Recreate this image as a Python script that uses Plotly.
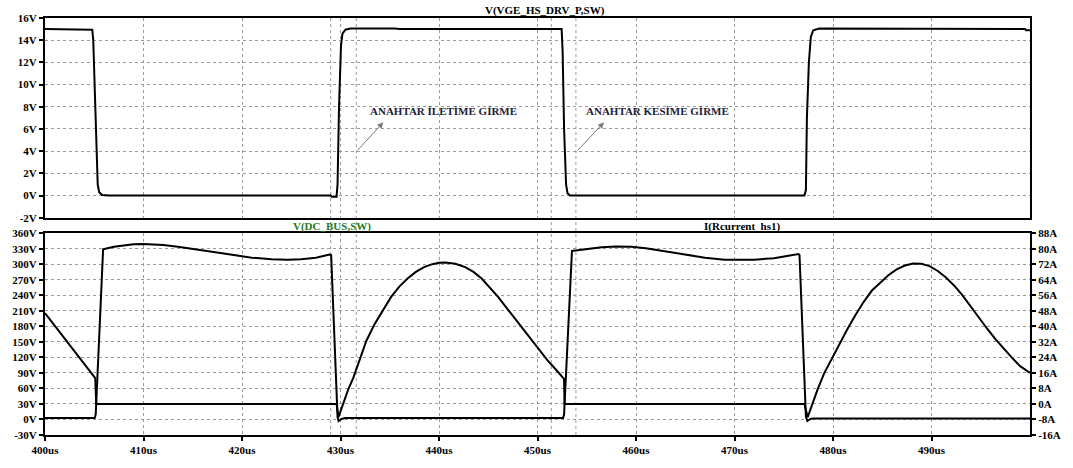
import plotly.graph_objects as go

# ---------------- data ----------------
# Top panel: V(VGE_HS_DRV_P,SW) [V]
time_vge = [400.0, 404.8, 404.9, 405.15, 405.35, 405.5, 405.8, 406.5, 429.0, 429.1, 429.6,
            429.7, 429.85, 430.05, 430.2, 430.5, 431.0, 435.5, 436.0, 452.45, 452.55, 452.7,
            452.9, 453.05, 453.3, 477.1, 477.25, 477.35, 477.4, 477.55, 477.75, 478.0,
            478.6, 499.5, 499.6, 500.0]
vge = [15.0, 14.95, 14.0, 6.0, 1.0, 0.3, 0.05, 0.0, 0.0, -0.1, -0.1,
       1.0, 8.0, 13.5, 14.6, 14.95, 15.05, 15.05, 15.0, 15.0, 13.0, 6.0,
       1.0, 0.2, 0.0, 0.0, 0.5, 7.0, 9.0, 12.0, 14.3, 14.9,
       15.05, 15.0, 14.9, 14.9]

# Bottom panel: V(DC_BUS,SW) [V]
time_vbus = [400.0, 405.05, 405.15, 405.9, 407.0, 408.0, 409.0, 410.0, 411.0, 412.0, 413.5,
             415.0, 417.0, 419.0, 421.0, 423.0, 424.6, 426.0, 427.5, 428.9, 429.05, 429.7,
             429.8, 430.1, 430.5, 452.6, 452.7, 453.5, 455.0, 456.5, 458.0, 459.5, 461.0,
             463.0, 465.0, 467.0, 469.0, 470.5, 472.0, 474.0, 475.5, 476.5, 476.6, 477.25,
             477.4, 477.7, 478.0, 500.0]
vbus = [3, 3, 10, 329, 334, 337, 339, 339.5, 339, 337.5, 334,
        330, 324, 318, 313, 310, 309, 310, 313, 319, 318, 5,
        -3, 1, 3, 3, 10, 326, 330, 333, 334.5, 334, 331,
        325, 318, 313, 309, 308.5, 309, 312, 316, 320, 318, 5,
        -3, 1, 2, 2]

# Bottom panel: I(Rcurrent_hs1) [A]
time_i = [400.0, 402.54, 405.1, 405.2, 429.6,
          429.79, 430.29, 430.79, 431.29, 431.96, 432.63, 433.47, 434.30, 435.14, 435.97,
          436.81, 437.65, 438.48, 439.32, 439.99, 440.66, 441.66, 442.66, 443.50, 444.33,
          445.17, 446.00, 446.84, 447.68, 448.51, 449.35, 450.18, 451.02, 451.86, 452.69,
          452.75, 477.1,
          477.43, 477.93, 478.44, 479.10, 479.77, 480.61, 481.44, 482.28, 483.12, 483.95,
          484.79, 485.62, 486.46, 487.30, 488.13, 488.97, 489.80, 490.64, 491.47, 492.31,
          493.15, 493.98, 494.82, 495.65, 496.49, 497.33, 498.16, 499.00, 499.93, 500.0]
i_hs = [46.8, 30.2, 13.3, 0.0, 0.0,
        -6.8, 0.8, 7.5, 13.3, 23.4, 32.6, 41.3, 48.5, 55.2, 60.5,
        64.7, 68.1, 70.6, 72.1, 72.8, 72.9, 72.3, 70.6, 68.1, 64.7,
        60.2, 55.2, 49.7, 44.3, 38.8, 33.4, 27.9, 22.5, 17.8, 13.0,
        0.0, 0.0,
        -6.8, 0.8, 7.5, 15.8, 22.5, 30.9, 38.4, 45.9, 52.7, 58.5,
        62.7, 66.4, 69.4, 71.4, 72.4, 72.3, 71.1, 68.6, 65.2, 61.0,
        56.0, 50.2, 44.3, 38.8, 33.4, 28.4, 23.9, 19.5, 16.2, 16.0]

# tick values / labels
x_ticks = [400, 410, 420, 430, 440, 450, 460, 470, 480, 490]
x_labels = [f"{t}us" for t in x_ticks]
vge_ticks = [-2, 0, 2, 4, 6, 8, 10, 12, 14, 16]
vbus_ticks = [-30, 0, 30, 60, 90, 120, 150, 180, 210, 240, 270, 300, 330, 360]
i_ticks = [-16, -8, 0, 8, 16, 24, 32, 40, 48, 56, 64, 72, 80, 88]

# cursor-like dotted vertical markers
marker_times = [429.0, 431.6, 451.4, 453.9]

# annotation texts and positions (time, volts)
note_texts = ["ANAHTAR İLETİME GİRME", "ANAHTAR KESİME GİRME"]
note_pos = [(432.8, 7.6), (454.7, 7.6)]
arrow_tail = [(431.6, 3.95), (453.95, 3.95)]
arrow_head = [(434.35, 6.6), (456.75, 6.6)]

# ---------------- figure ----------------
FONT = "Liberation Serif"
tickfont = dict(family=FONT, size=11, color="black", weight="bold")
grid = dict(showgrid=True, gridcolor="#9a9a9a", griddash="dot", gridwidth=1)
frame = dict(showline=True, linecolor="black", linewidth=2, mirror=True, zeroline=False)

fig = go.Figure()
fig.add_trace(go.Scatter(x=time_vge, y=vge, xaxis="x", yaxis="y", mode="lines",
                         line=dict(color="black", width=2), name="V(VGE_HS_DRV_P,SW)"))
fig.add_trace(go.Scatter(x=time_vbus, y=vbus, xaxis="x2", yaxis="y2", mode="lines",
                         line=dict(color="black", width=2), name="V(DC_BUS,SW)"))
fig.add_trace(go.Scatter(x=time_i, y=i_hs, xaxis="x2", yaxis="y3", mode="lines",
                         line=dict(color="black", width=2), name="I(Rcurrent_hs1)"))

fig.update_layout(
    width=1073, height=468,
    margin=dict(l=38, r=38, t=12, b=28),
    paper_bgcolor="white", plot_bgcolor="white",
    showlegend=False,
    xaxis=dict(domain=[0, 1], anchor="y", range=[400, 500], tickvals=x_ticks,
               showticklabels=False, ticks="", **grid, **frame),
    yaxis=dict(domain=[0.521, 1], anchor="x", range=[-2, 16], tickvals=vge_ticks,
               ticktext=[f"{v}V" for v in vge_ticks], ticks="outside", ticklen=4,
               tickwidth=1.5, tickcolor="black", tickfont=tickfont, **grid, **frame),
    xaxis2=dict(domain=[0, 1], anchor="y2", range=[400, 500], tickvals=x_ticks,
                ticktext=x_labels, ticks="outside", ticklen=4, tickwidth=1.5,
                tickcolor="black", tickfont=tickfont, **grid, **frame),
    yaxis2=dict(domain=[0, 0.4836], anchor="x2", range=[-30, 360], tickvals=vbus_ticks,
                ticktext=[f"{v}V" for v in vbus_ticks], ticks="outside", ticklen=4,
                tickwidth=1.5, tickcolor="black", tickfont=tickfont, **grid, **frame),
    yaxis3=dict(overlaying="y2", anchor="x2", side="right", range=[-16, 88],
                tickvals=i_ticks, ticktext=[f"{v}A" for v in i_ticks], ticks="outside",
                ticklen=4, tickwidth=1.5, tickcolor="black", tickfont=tickfont,
                showgrid=False, zeroline=False, showline=True, linecolor="black", linewidth=2),
)

for t in marker_times:
    fig.add_shape(type="line", xref="x", yref="paper", x0=t, x1=t, y0=0, y1=1,
                  line=dict(color="#9a9a9a", width=1, dash="dot"), layer="below")

titlefont = dict(family=FONT, size=11, weight="bold")
fig.add_annotation(text="V(VGE_HS_DRV_P,SW)", xref="paper", yref="paper", x=0.508, y=1,
                   yanchor="bottom", yshift=-1, showarrow=False, font=dict(color="black", **titlefont))
fig.add_annotation(text="V(DC_BUS,SW)", xref="paper", yref="paper", x=0.25, y=0.5,
                   yanchor="middle", showarrow=False, font=dict(color="#1e7a1e", **titlefont))
fig.add_annotation(text="I(Rcurrent_hs1)", xref="paper", yref="paper", x=0.749, y=0.5,
                   yanchor="middle", showarrow=False, font=dict(color="black", **titlefont))

for txt, (tx, ty) in zip(note_texts, note_pos):
    fig.add_annotation(text=txt, xref="x", yref="y", x=tx, y=ty, xanchor="left",
                       yanchor="middle", showarrow=False,
                       font=dict(family=FONT, size=11, color="#1c1c3a", weight="bold"))
for (x0, y0), (x1, y1) in zip(arrow_tail, arrow_head):
    fig.add_annotation(x=x1, y=y1, ax=x0, ay=y0, xref="x", yref="y", axref="x", ayref="y",
                       text="", showarrow=True, arrowhead=2, arrowsize=1.2, arrowwidth=1,
                       arrowcolor="#7a7a7a")

fig.write_html("out.html")
